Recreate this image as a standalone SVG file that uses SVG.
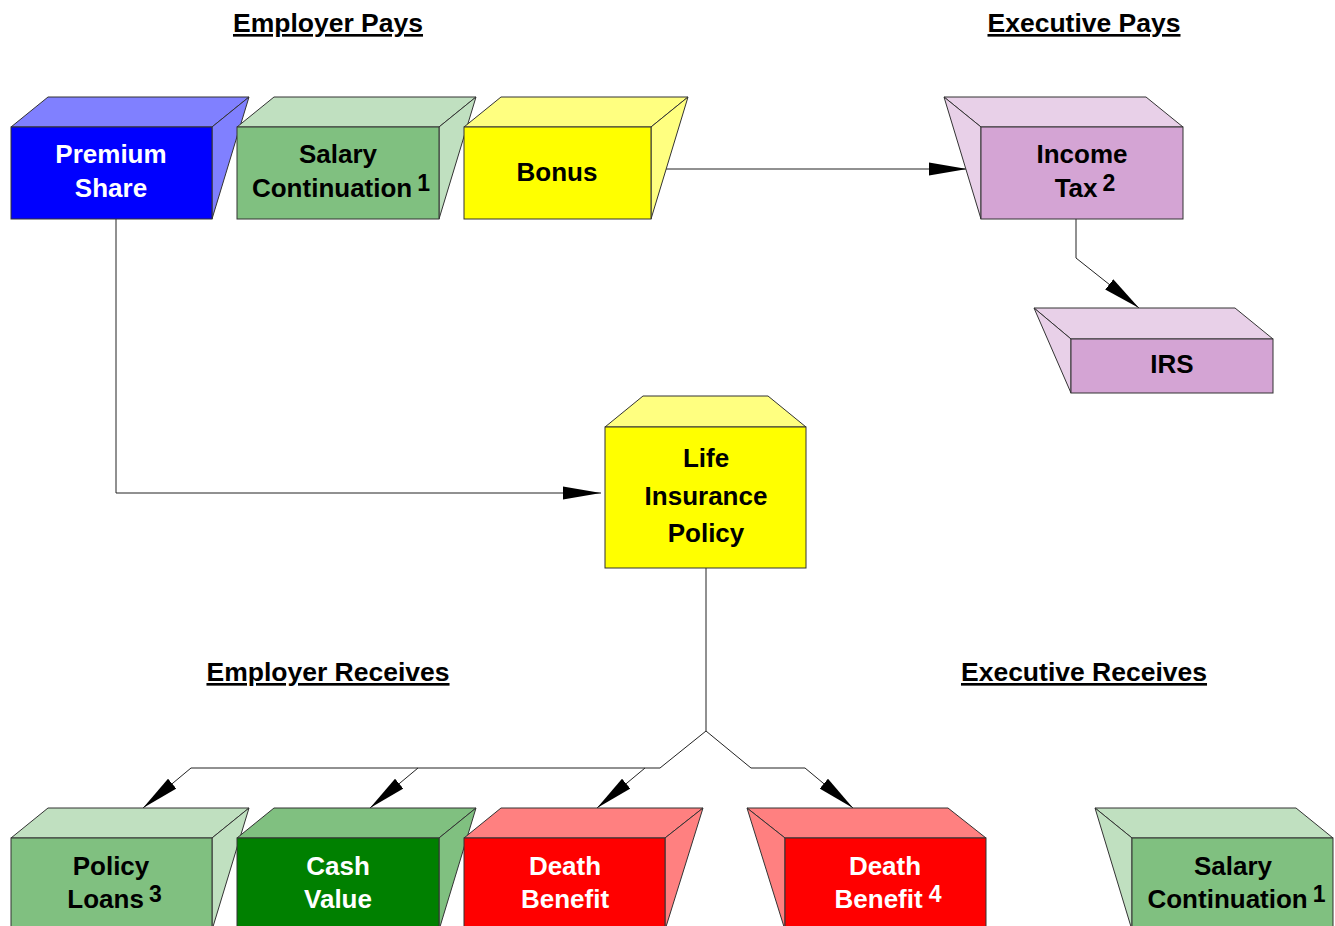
<svg xmlns="http://www.w3.org/2000/svg" width="1335" height="926" viewBox="0 0 1335 926">
<style>
  .t{font-family:"Liberation Sans",Arial,sans-serif;font-weight:bold;font-size:26px;text-anchor:middle}
  .w{fill:#ffffff}
  .k{fill:#000000}
  .sup{font-size:23px}
  .h{font-family:"Liberation Sans",Arial,sans-serif;font-weight:bold;font-size:26.5px;text-anchor:middle;text-decoration:underline;fill:#000}
  .s{stroke:#333333;stroke-width:1;stroke-linejoin:miter}
  .c{fill:none;stroke:#222222;stroke-width:1}
</style>
<defs>
  <marker id="ah" markerUnits="userSpaceOnUse" markerWidth="40" markerHeight="14" refX="38" refY="7" orient="auto">
    <path d="M0,0.5 L38,7 L0,13.5 z" fill="#000000"/>
  </marker>
</defs>
<rect width="1335" height="926" fill="#ffffff"/>

<text class="h" x="328" y="32">Employer Pays</text>
<text class="h" x="1084" y="32">Executive Pays</text>
<text class="h" x="328" y="681">Employer Receives</text>
<text class="h" x="1084" y="681">Executive Receives</text>

<g id="connectors">
  <polyline class="c" points="116,219 116,493 601,493" marker-end="url(#ah)"/>
  <polyline class="c" points="666,169 967,169" marker-end="url(#ah)"/>
  <polyline class="c" points="1076,219 1076,258 1139,308" marker-end="url(#ah)"/>
  <polyline class="c" points="706,568 706,731 660,768 191,768 143,808" marker-end="url(#ah)"/>
  <polyline class="c" points="418,768 370,808" marker-end="url(#ah)"/>
  <polyline class="c" points="645,768 597,808" marker-end="url(#ah)"/>
  <polyline class="c" points="706,731 751,768 805,768 853,808" marker-end="url(#ah)"/>
</g>

<g id="premium-share">
  <polygon class="s" fill="#8080ff" points="11,127 48,97 249,97 212,127"/>
  <polygon class="s" fill="#8080ff" points="212,127 249,97 212,219"/>
  <rect class="s" fill="#0000ff" x="11" y="127" width="201" height="92"/>
  <text class="t w" x="111" y="163">Premium</text>
  <text class="t w" x="111" y="197">Share</text>
</g>

<g id="salary-continuation-top">
  <polygon class="s" fill="#c0e0c0" points="237,127 274,97 476,97 439,127"/>
  <polygon class="s" fill="#c0e0c0" points="439,127 476,97 439,219"/>
  <rect class="s" fill="#80c080" x="237" y="127" width="202" height="92"/>
  <text class="t k" x="338" y="163">Salary</text>
  <text class="t k" x="341" y="197">Continuation<tspan class="sup" dx="5" dy="-6">1</tspan></text>
</g>

<g id="bonus">
  <polygon class="s" fill="#ffff80" points="464,127 501,97 688,97 651,127"/>
  <polygon class="s" fill="#ffff80" points="651,127 688,97 651,219"/>
  <rect class="s" fill="#ffff00" x="464" y="127" width="187" height="92"/>
  <text class="t k" x="557" y="181">Bonus</text>
</g>

<g id="income-tax">
  <polygon class="s" fill="#e8d0e8" points="944,97 1146,97 1183,127 981,127"/>
  <polygon class="s" fill="#e8d0e8" points="944,97 981,127 981,219"/>
  <rect class="s" fill="#d4a4d4" x="981" y="127" width="202" height="92"/>
  <text class="t k" x="1082" y="163">Income</text>
  <text class="t k" x="1085" y="197">Tax<tspan class="sup" dx="5" dy="-6">2</tspan></text>
</g>

<g id="irs">
  <polygon class="s" fill="#e8d0e8" points="1034,308 1235,308 1273,339 1071,339"/>
  <polygon class="s" fill="#e8d0e8" points="1034,308 1071,339 1071,393"/>
  <rect class="s" fill="#d4a4d4" x="1071" y="339" width="202" height="54"/>
  <text class="t k" x="1172" y="373">IRS</text>
</g>

<g id="life-insurance-policy">
  <polygon class="s" fill="#ffff80" points="605,427 643,396 768,396 806,427"/>
  <rect class="s" fill="#ffff00" x="605" y="427" width="201" height="141"/>
  <text class="t k" x="706" y="467">Life</text>
  <text class="t k" x="706" y="505">Insurance</text>
  <text class="t k" x="706" y="542">Policy</text>
</g>

<g id="policy-loans">
  <polygon class="s" fill="#c0e0c0" points="11,838 48,808 249,808 212,838"/>
  <polygon class="s" fill="#c0e0c0" points="212,838 249,808 212,930"/>
  <rect class="s" fill="#80c080" x="11" y="838" width="201" height="95"/>
  <text class="t k" x="111" y="875">Policy</text>
  <text class="t k" x="114.5" y="908">Loans<tspan class="sup" dx="5" dy="-6">3</tspan></text>
</g>

<g id="cash-value">
  <polygon class="s" fill="#80c080" points="237,838 274,808 476,808 439,838"/>
  <polygon class="s" fill="#80c080" points="439,838 476,808 439,930"/>
  <rect class="s" fill="#008000" x="237" y="838" width="202" height="95"/>
  <text class="t w" x="338" y="875">Cash</text>
  <text class="t w" x="338" y="908">Value</text>
</g>

<g id="death-benefit-employer">
  <polygon class="s" fill="#ff8080" points="464,838 501,808 703,808 665,838"/>
  <polygon class="s" fill="#ff8080" points="665,838 703,808 665,930"/>
  <rect class="s" fill="#ff0000" x="464" y="838" width="201" height="95"/>
  <text class="t w" x="565" y="875">Death</text>
  <text class="t w" x="565" y="908">Benefit</text>
</g>

<g id="death-benefit-executive">
  <polygon class="s" fill="#ff8080" points="747,808 948,808 986,838 785,838"/>
  <polygon class="s" fill="#ff8080" points="747,808 785,838 785,930"/>
  <rect class="s" fill="#ff0000" x="785" y="838" width="201" height="95"/>
  <text class="t w" x="885" y="875">Death</text>
  <text class="t w" x="888" y="908">Benefit<tspan class="sup" dx="6" dy="-6">4</tspan></text>
</g>

<g id="salary-continuation-bottom">
  <polygon class="s" fill="#c0e0c0" points="1095,808 1296,808 1333,838 1132,838"/>
  <polygon class="s" fill="#c0e0c0" points="1095,808 1132,838 1132,930"/>
  <rect class="s" fill="#80c080" x="1132" y="838" width="201" height="95"/>
  <text class="t k" x="1233" y="875">Salary</text>
  <text class="t k" x="1236.5" y="908">Continuation<tspan class="sup" dx="5" dy="-6">1</tspan></text>
</g>
</svg>
